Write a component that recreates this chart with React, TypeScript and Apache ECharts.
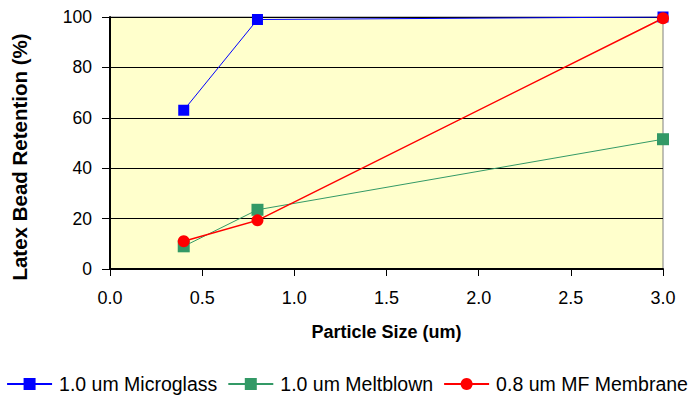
import React, { useEffect, useRef } from "react";
import * as echarts from "echarts";

const particleSizes = [0.4, 0.8, 3.0];
const microglass = [63, 99, 100];
const meltblown = [9, 23.5, 51.5];
const mfMembrane = [11, 19.3, 99.5];
const seriesNames = ["1.0 um Microglass", "1.0 um Meltblown", "0.8 um MF Membrane"];

const FONT = "Liberation Sans";

function pairs(ys: number[]) {
  return particleSizes.map((x, i) => [x, ys[i]]);
}

export default function App() {
  const ref = useRef<HTMLDivElement>(null);
  useEffect(() => {
    if (!ref.current) return;
    const chart = echarts.init(ref.current, undefined, { renderer: "svg" });
    chart.setOption({
      animation: false,
      backgroundColor: "#ffffff",
      textStyle: { fontFamily: FONT, color: "#000" },
      grid: {
        left: 110,
        right: 31,
        top: 17,
        bottom: 127,
        show: true,
        backgroundColor: "#FFFFCC",
        borderColor: "#808080",
        borderWidth: 1,
      },
      legend: {
        bottom: -3,
        left: "center",
        itemWidth: 45,
        itemHeight: 15,
        itemGap: 10,
        textStyle: { fontFamily: FONT, fontSize: 19.5, color: "#000", padding: [0, 0, 0, 2] },
        data: seriesNames,
      },
      xAxis: {
        type: "value",
        min: 0,
        max: 3,
        interval: 0.5,
        name: "Particle Size (um)",
        nameLocation: "middle",
        nameGap: 54,
        nameTextStyle: { fontFamily: FONT, fontSize: 18, fontWeight: "bold", color: "#000" },
        axisLine: { show: true, onZero: false, lineStyle: { color: "#000", width: 2 } },
        axisTick: { show: true, inside: false, length: 7, lineStyle: { color: "#000", width: 1 } },
        axisLabel: {
          margin: 20,
          fontFamily: FONT,
          fontSize: 18,
          color: "#000",
          formatter: (v: number) => v.toFixed(1),
        },
        splitLine: { show: false },
      },
      yAxis: {
        type: "value",
        min: 0,
        max: 100,
        interval: 20,
        name: "Latex Bead Retention (%)",
        nameLocation: "middle",
        nameGap: 80,
        nameTextStyle: {
          fontFamily: FONT,
          fontSize: 20.5,
          fontWeight: "bold",
          color: "#000",
          padding: [0, 28, 0, 0],
        },
        axisLine: { show: true, lineStyle: { color: "#000", width: 2 } },
        axisTick: { show: true, inside: false, length: 8, lineStyle: { color: "#000", width: 1 } },
        axisLabel: { margin: 18, fontFamily: FONT, fontSize: 17.5, color: "#000" },
        splitLine: { show: true, lineStyle: { color: "#000", width: 1 } },
      },
      series: [
        {
          name: seriesNames[0],
          type: "line",
          data: pairs(microglass),
          symbol: "rect",
          symbolSize: 11,
          lineStyle: { color: "#0000FF", width: 1 },
          itemStyle: { color: "#0000FF" },
        },
        {
          name: seriesNames[1],
          type: "line",
          data: pairs(meltblown),
          symbol: "rect",
          symbolSize: 12,
          lineStyle: { color: "#339966", width: 1 },
          itemStyle: { color: "#339966" },
        },
        {
          name: seriesNames[2],
          type: "line",
          data: pairs(mfMembrane),
          symbol: "circle",
          symbolSize: 12,
          lineStyle: { color: "#FF0000", width: 1.5 },
          itemStyle: { color: "#FF0000" },
        },
      ],
    });
    return () => chart.dispose();
  }, []);
  return <div ref={ref} style={{ width: 694, height: 396, position: "absolute", left: 0, top: 0 }} />;
}
